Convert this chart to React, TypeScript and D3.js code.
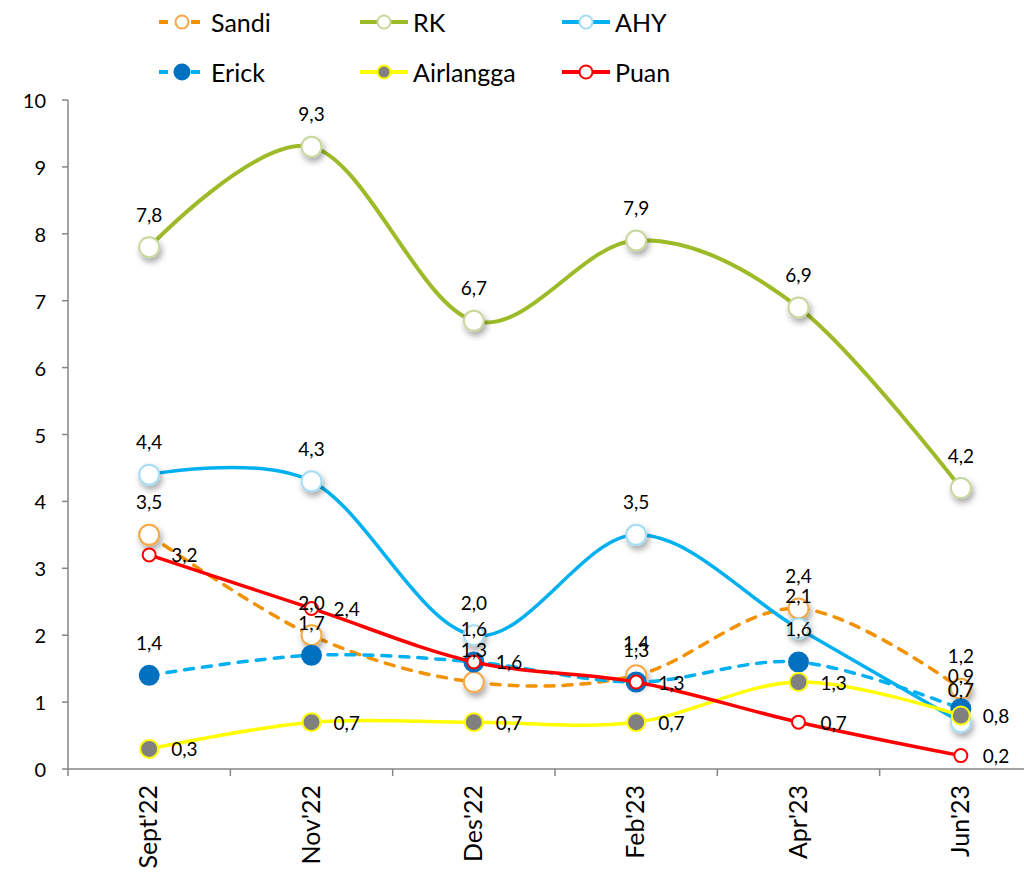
import React, { useEffect, useRef } from 'react';
import * as d3 from 'd3';

const categories = ["Sept'22", "Nov'22", "Des'22", "Feb'23", "Apr'23", "Jun'23"];
const sandi = [3.5, 2.0, 1.3, 1.4, 2.4, 1.2];
const rk = [7.8, 9.3, 6.7, 7.9, 6.9, 4.2];
const ahy = [4.4, 4.3, 2.0, 3.5, 2.1, 0.7];
const erick = [1.4, 1.7, 1.6, 1.3, 1.6, 0.9];
const airlangga = [0.3, 0.7, 0.7, 0.7, 1.3, 0.8];
const puan = [3.2, 2.4, 1.6, 1.3, 0.7, 0.2];
const yTicks = [0, 1, 2, 3, 4, 5, 6, 7, 8, 9, 10];

const FONT = 'Lato, "Open Sans", sans-serif';

const series = [
  { name: 'Sandi', values: sandi, line: '#F39200', width: 3.5, dash: '9,9', fill: '#fff', stroke: '#F5A845', r: 10, shadow: true, label: 'top' },
  { name: 'RK', values: rk, line: '#9DBB28', width: 4, dash: null, fill: '#fff', stroke: '#C8D89C', r: 10, shadow: true, label: 'top' },
  { name: 'AHY', values: ahy, line: '#00B0F0', width: 3.5, dash: null, fill: '#fff', stroke: '#A5DDF5', r: 10, shadow: true, label: 'top' },
  { name: 'Erick', values: erick, line: '#00B0F0', width: 3.5, dash: '9,9', fill: '#0070C0', stroke: '#0070C0', r: 9.5, shadow: false, label: 'top' },
  { name: 'Airlangga', values: airlangga, line: '#FFFF00', width: 3.5, dash: null, fill: '#808080', stroke: '#FFFF00', r: 9, shadow: false, label: 'right' },
  { name: 'Puan', values: puan, line: '#FF0000', width: 3.5, dash: null, fill: '#fff', stroke: '#FF0000', r: 6.5, shadow: false, label: 'right' },
];

const fmt = (v: number) => v.toFixed(1).replace('.', ',');

function Chart() {
  const ref = useRef<SVGSVGElement>(null);

  useEffect(() => {
    const svg = d3.select(ref.current);
    svg.selectAll('*').remove();

    const left = 68, right = 1042, top = 100, bottom = 769;

    const x = d3.scaleBand<string>().domain(categories).range([left, right]);
    const cx = (i: number) => (x(categories[i]) as number) + x.bandwidth() / 2;
    const y = d3.scaleLinear().domain([0, 10]).range([bottom, top]);

    const defs = svg.append('defs');
    const f = defs.append('filter').attr('id', 'shadow').attr('x', '-50%').attr('y', '-50%').attr('width', '200%').attr('height', '200%');
    f.append('feDropShadow').attr('dx', 2).attr('dy', 4).attr('stdDeviation', 3).attr('flood-color', '#000').attr('flood-opacity', 0.35);

    // y axis
    const axisColor = '#868686';
    svg.append('line').attr('x1', left).attr('x2', left).attr('y1', top).attr('y2', bottom)
      .style('stroke', axisColor).style('stroke-width', 1.5);
    yTicks.forEach(t => {
      svg.append('line').attr('x1', left - 6).attr('x2', left).attr('y1', y(t)).attr('y2', y(t))
        .style('stroke', axisColor).style('stroke-width', 1.5);
      svg.append('text').attr('x', 46).attr('y', y(t)).attr('text-anchor', 'end')
        .attr('dominant-baseline', 'central').text(t)
        .style('font-family', FONT).style('font-size', '20px').style('fill', '#000');
    });

    // x axis
    svg.append('line').attr('x1', left).attr('x2', right).attr('y1', bottom).attr('y2', bottom)
      .style('stroke', axisColor).style('stroke-width', 1.5);
    d3.range(categories.length + 1).forEach(i => {
      const xx = left + i * x.step();
      svg.append('line').attr('x1', xx).attr('x2', xx).attr('y1', bottom).attr('y2', bottom + 7)
        .style('stroke', axisColor).style('stroke-width', 1.5);
    });
    categories.forEach((c, i) => {
      svg.append('text')
        .attr('transform', `translate(${cx(i) + 8},${bottom + 16}) rotate(-90)`)
        .attr('text-anchor', 'end')
        .text(c)
        .style('font-family', FONT).style('font-size', '25px').style('fill', '#000');
    });

    const line = d3.line<number>()
      .x((d, i) => cx(i))
      .y(d => y(d))
      .curve(d3.curveCardinal.tension(0));

    series.forEach(s => {
      const p = svg.append('path').datum(s.values).attr('d', line)
        .style('fill', 'none').style('stroke', s.line).style('stroke-width', s.width)
        .style('stroke-linecap', s.dash ? 'round' : 'butt');
      if (s.dash) p.style('stroke-dasharray', s.dash);
      svg.append('g').selectAll('circle').data(s.values).enter().append('circle')
        .attr('cx', (d, i) => cx(i)).attr('cy', d => y(d)).attr('r', s.r)
        .attr('filter', s.shadow ? 'url(#shadow)' : null)
        .style('fill', s.fill).style('stroke', s.stroke).style('stroke-width', 2);
    });

    series.forEach(s => {
      s.values.forEach((v, i) => {
        const t = svg.append('text').text(fmt(v))
          .style('font-family', FONT).style('font-size', '19px').style('fill', '#000')
          .attr('dominant-baseline', 'central');
        if (s.label === 'top') {
          t.attr('x', cx(i)).attr('y', y(v) - 33).attr('text-anchor', 'middle');
        } else {
          t.attr('x', cx(i) + 22).attr('y', y(v)).attr('text-anchor', 'start');
        }
      });
    });

    // legend
    const legX = [158, 360, 562];
    const legY = [22, 72];
    series.forEach((s, i) => {
      const lx = legX[i % 3], ly = legY[Math.floor(i / 3)];
      const g = svg.append('g');
      const l = g.append('line').attr('x1', lx).attr('x2', lx + 48).attr('y1', ly).attr('y2', ly)
        .style('stroke', s.line).style('stroke-width', 4);
      if (s.dash) l.style('stroke-dasharray', '9,7').attr('x1', lx + 1);
      g.append('circle').attr('cx', lx + 24).attr('cy', ly).attr('r', s.name === 'Erick' ? 7.5 : 6.5)
        .style('fill', s.fill).style('stroke', s.stroke).style('stroke-width', 2);
      g.append('text').attr('x', lx + 53).attr('y', ly).attr('dominant-baseline', 'central')
        .text(s.name)
        .style('font-family', FONT).style('font-size', '25px').style('fill', '#000');
    });
  }, []);

  return <svg ref={ref} width={1024} height={880} style={{ display: 'block' }} />;
}

export default function App() {
  return (
    <div style={{ position: 'absolute', left: 0, top: 0, width: 1024, height: 880, overflow: 'hidden', background: '#fff' }}>
      <Chart />
    </div>
  );
}
